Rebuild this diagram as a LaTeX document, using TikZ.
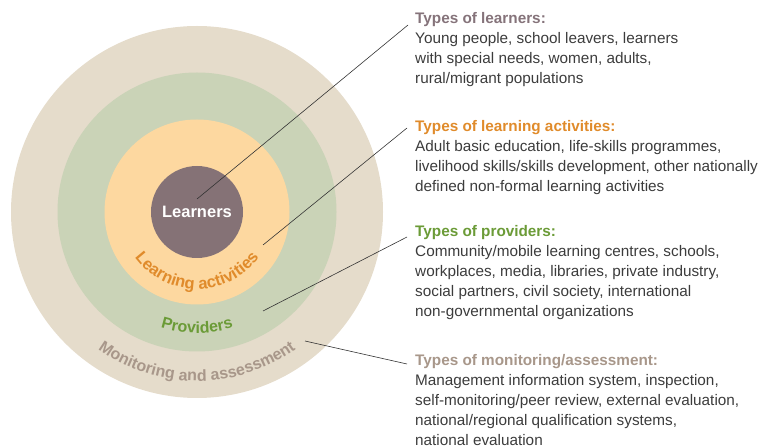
\documentclass[tikz,border=0pt]{standalone}
\usepackage{fontspec}
\setmainfont{Liberation Sans}
\usetikzlibrary{decorations.text}
\definecolor{ringout}{HTML}{E5DCCB}
\definecolor{ringgreen}{HTML}{CAD3B7}
\definecolor{ringorange}{HTML}{FDD8A0}
\definecolor{ringpurple}{HTML}{857276}
\definecolor{hlearn}{HTML}{85737A}
\definecolor{hact}{HTML}{E08B2B}
\definecolor{hprov}{HTML}{6B9B37}
\definecolor{hmon}{HTML}{A8978A}
\definecolor{bodyc}{HTML}{3C3C3C}
\begin{document}
\begin{tikzpicture}[x=1pt,y=1pt,
  leader/.style={draw=black!80,line width=0.6pt},
  block/.style={anchor=base west,inner sep=0pt,align=left,text=bodyc,
    font=\fontsize{15.3}{20}\selectfont},
  curvetext/.style={decorate,decoration={text along path,text align=center,
    text={#1}}}
]
\useasboundingbox (0,0) rectangle (766,447);
\coordinate (C) at (197,235);
\fill[ringout] (C) circle[radius=186];
\fill[ringgreen] (C) circle[radius=139.5];
\fill[ringorange] (C) circle[radius=92.5];
\node[circle,fill=ringpurple,minimum size=92pt,inner sep=0pt,text=white,
  font=\fontsize{16.5}{16}\selectfont\bfseries] (learn) at (C) {Learners};

% curved labels
\path[curvetext={|\fontsize{16.5}{16}\selectfont\bfseries\color{hact}|Learning activities}]
  (C) ++(205:77) arc[start angle=205,end angle=335,radius=77];
\path[curvetext={|\fontsize{16}{16}\selectfont\bfseries\color{hprov}|Providers}]
  (C) ++(240:121) arc[start angle=240,end angle=300,radius=121];
\path[curvetext={|\fontsize{16}{16}\selectfont\bfseries\color{hmon}|Monitoring and assessment}]
  (C) ++(220:169) arc[start angle=220,end angle=320,radius=169];

% text blocks (base anchor = baseline of last line)
\node[block] (tl) at (415,363.7) {{\bfseries\color{hlearn}Types of learners:}\\
Young people, school leavers, learners\\
with special needs, women, adults,\\
rural/migrant populations};
\node[block] (ta) at (415,255.3) {{\bfseries\color{hact}Types of learning activities:}\\
Adult basic education, life-skills programmes,\\
livelihood skills/skills development, other nationally\\
defined non-formal learning activities};
\node[block] (tp) at (415,130) {{\bfseries\color{hprov}Types of providers:}\\
Community/mobile learning centres, schools,\\
workplaces, media, libraries, private industry,\\
social partners, civil society, international\\
non-governmental organizations};
\node[block] (tm) at (415,1.3) {{\bfseries\color{hmon}Types of monitoring/assessment:}\\
Management information system, inspection,\\
self-monitoring/peer review, external evaluation,\\
national/regional qualification systems,\\
national evaluation};

% leader lines
\coordinate (s1) at (197,248);
\coordinate (e1) at (408,422);
\coordinate (s2) at (263,202);
\coordinate (e2) at (407,319);
\coordinate (s3) at (263,136);
\coordinate (e3) at (407,210);
\coordinate (s4) at (305,106);
\coordinate (e4) at (407,83);
\draw[leader] (s1) -- (e1);
\draw[leader] (s2) -- (e2);
\draw[leader] (s3) -- (e3);
\draw[leader] (s4) -- (e4);
\end{tikzpicture}
\end{document}
